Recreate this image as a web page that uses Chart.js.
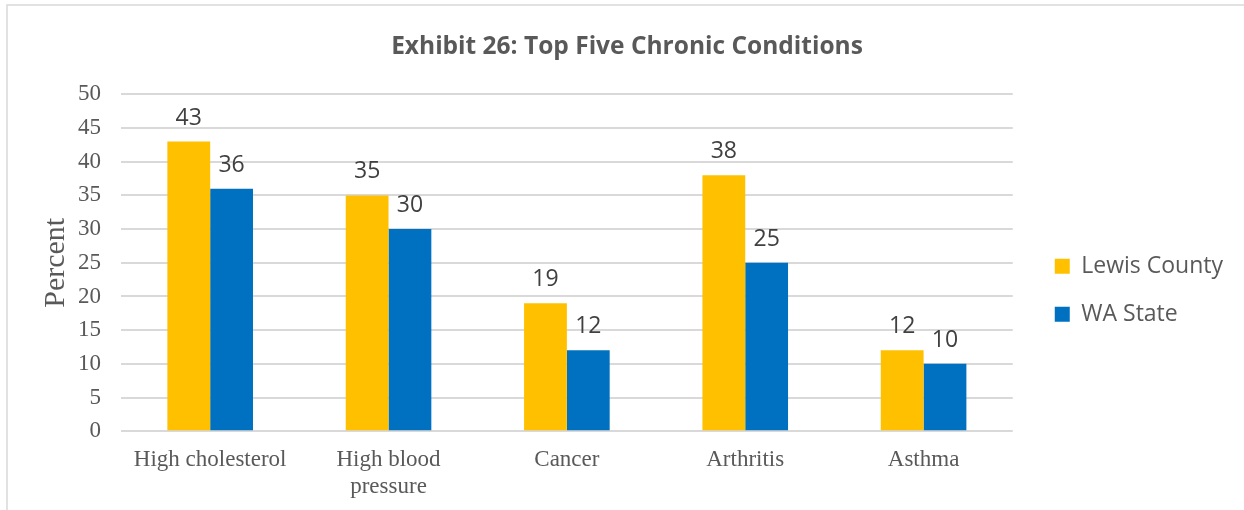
<!DOCTYPE html>
<html>
<head>
<meta charset="utf-8">
<script src="https://cdn.jsdelivr.net/npm/chart.js@4/dist/chart.umd.min.js"></script>
<style>
  html, body { margin: 0; padding: 0; background: #fff; }
  #wrap { width: 1244px; height: 510px; }
</style>
</head>
<body>
<div id="wrap"><canvas id="myChart"></canvas></div>
<script>
var categories = ["High cholesterol", ["High blood", "pressure"], "Cancer", "Arthritis", "Asthma"];
var lewisCounty = [43, 35, 19, 38, 12];
var waState = [36, 30, 12, 25, 10];
var yTicks = [0, 5, 10, 15, 20, 25, 30, 35, 40, 45, 50];

// outer frame like the spreadsheet chart box
var framePlugin = {
  id: "frame",
  beforeDraw: function (chart) {
    var c = chart.ctx;
    c.save();
    c.strokeStyle = "#d9d9d9";
    c.lineWidth = 1.5;
    c.strokeRect(7, 5, chart.width + 10, chart.height + 10);
    c.restore();
  },
  // leave a wider gap between plot and legend
  afterLayout: function (chart) {
    if (chart.legend) {
      chart.legend.left += 17;
      chart.legend.right += 17;
    }
  }
};

// value labels above each bar
var valueLabels = {
  id: "valueLabels",
  afterDatasetsDraw: function (chart) {
    var c = chart.ctx;
    c.save();
    c.font = "23px 'Open Sans'";
    c.fillStyle = "#404040";
    c.textAlign = "center";
    c.textBaseline = "bottom";
    chart.data.datasets.forEach(function (ds, i) {
      chart.getDatasetMeta(i).data.forEach(function (bar, j) {
        c.fillText(ds.data[j], bar.x, bar.y - 12);
      });
    });
    c.restore();
  }
};

var ctx = document.getElementById("myChart").getContext("2d");

var myChart = new Chart(ctx, {
  type: "bar",
  data: {
    labels: categories,
    datasets: [
      {
        label: "Lewis County",
        data: lewisCounty,
        backgroundColor: "#FFC000",
        categoryPercentage: 0.48,
        barPercentage: 1.0,
      },
      {
        label: "WA State",
        data: waState,
        backgroundColor: "#0070C0",
        categoryPercentage: 0.48,
        barPercentage: 1.0,
      },
    ],
  },
  options: {
    responsive: true,
    maintainAspectRatio: false,
    animation: false,
    layout: {
      padding: { top: 18, left: 38, right: 28, bottom: -5 },
    },
    scales: {
      x: {
        grid: { display: false, drawTicks: false },
        border: { display: false },
        afterFit: function (scale) {
          scale.paddingLeft = 0;
          scale.paddingRight = 0;
        },
        ticks: {
          color: "#595959",
          font: { family: "'Liberation Serif', serif", size: 23, lineHeight: 1.17 },
          padding: 15,
          maxRotation: 0,
          autoSkip: false,
        },
      },
      y: {
        min: 0,
        max: 50,
        afterBuildTicks: function (axis) {
          axis.ticks = yTicks.map(function (v) { return { value: v }; });
        },
        afterFit: function (scale) {
          scale.width = 83;
        },
        grid: { color: "#d9d9d9", lineWidth: 2, drawTicks: false },
        border: { display: false },
        ticks: {
          color: "#595959",
          font: { family: "'Liberation Serif', serif", size: 23 },
          padding: 20,
        },
        title: {
          display: true,
          text: "Percent",
          color: "#595959",
          font: { family: "'Liberation Serif', serif", size: 30 },
          padding: { top: 0, bottom: 5 },
        },
      },
    },
    plugins: {
      title: {
        display: true,
        text: "Exhibit 26: Top Five Chronic Conditions",
        color: "#595959",
        font: { family: "'Open Sans'", size: 24.5, weight: "bold" },
        padding: { top: 14, bottom: 33 },
      },
      legend: {
        position: "right",
        title: { display: true, text: "", padding: 10, font: { size: 23 } },
        labels: {
          color: "#595959",
          boxWidth: 15,
          boxHeight: 15,
          padding: 25,
          font: { family: "'Open Sans'", size: 23 },
        },
      },
      tooltip: { enabled: false },
    },
  },
  plugins: [framePlugin, valueLabels],
});
</script>
</body>
</html>
